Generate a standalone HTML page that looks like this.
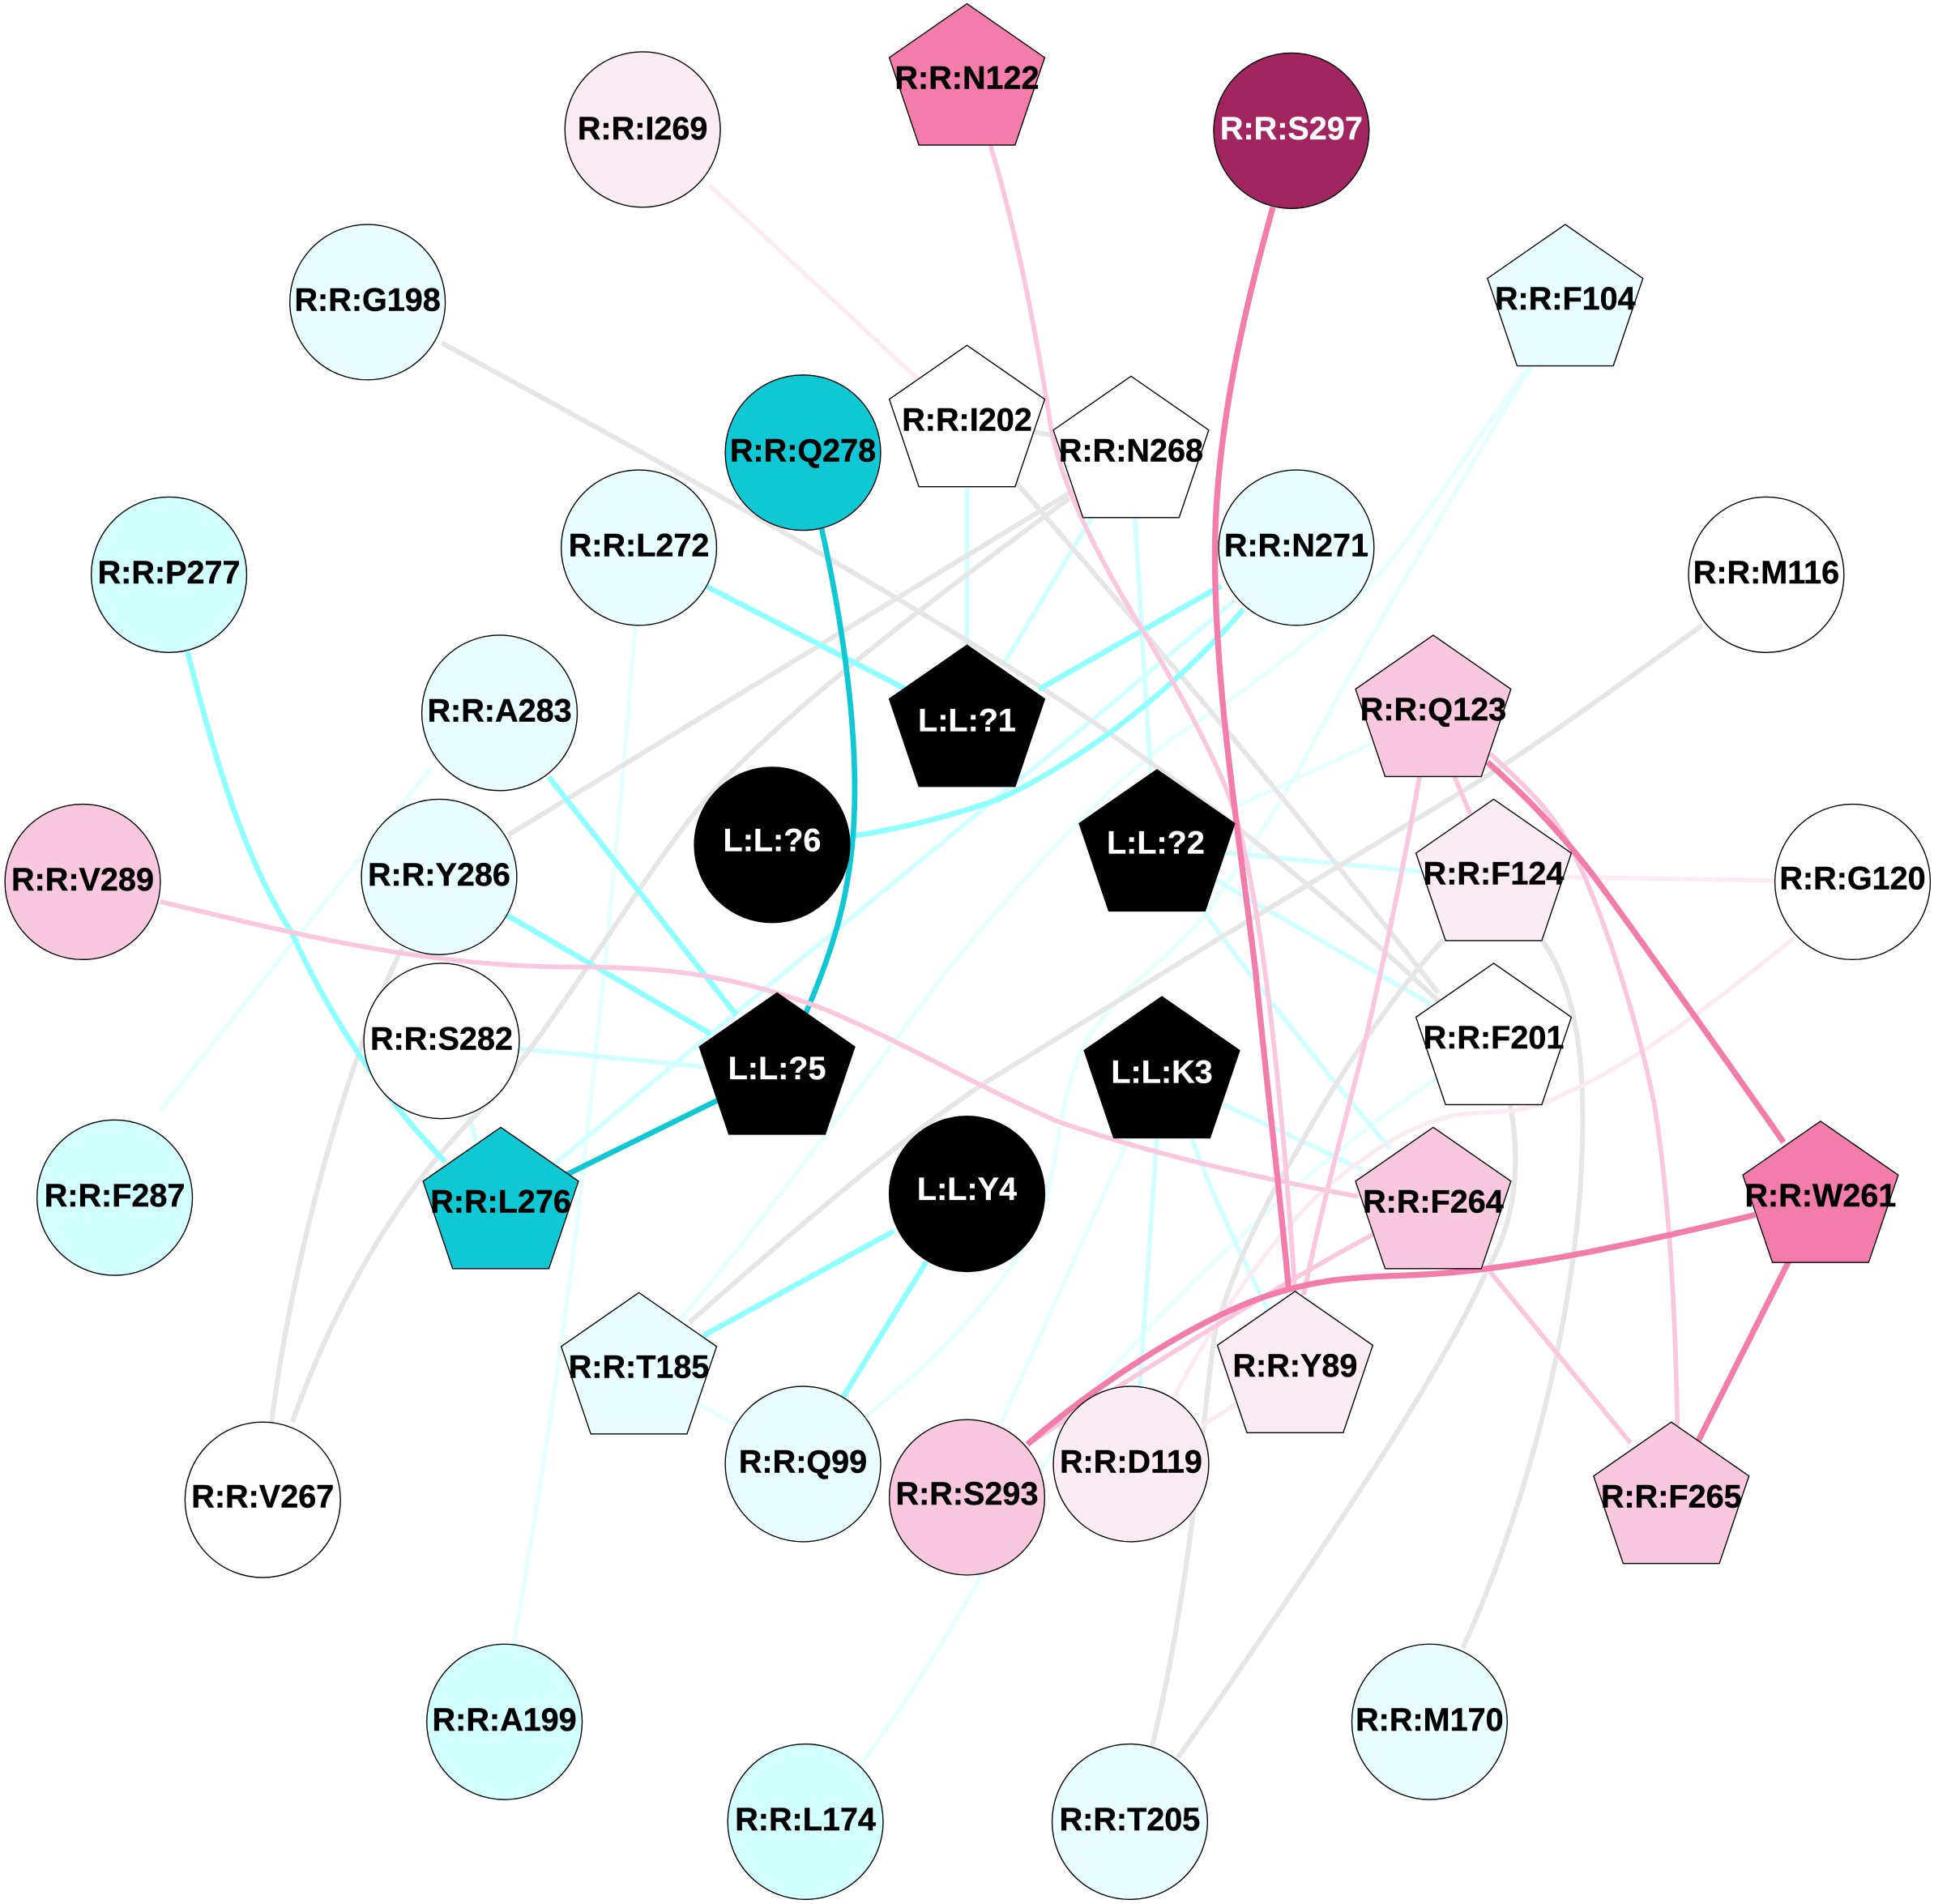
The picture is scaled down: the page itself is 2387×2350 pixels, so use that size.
<!DOCTYPE html>
<html><head><meta charset="utf-8"><style>
html,body{margin:0;padding:0;background:#fff}
svg{display:block}
path,line{fill:none;stroke-linecap:butt}
.lp{stroke:#fbecf4;stroke-width:3.6}
.p{stroke:#f9c8de;stroke-width:3.8}
.s{stroke:#f27dab;stroke-width:4.8}
.g{stroke:#e6e6e6;stroke-width:4}
.lc{stroke:#e6ffff;stroke-width:3.6}
.c{stroke:#d2ffff;stroke-width:3.8}
.sc{stroke:#8fffff;stroke-width:4.4}
.t{stroke:#10c8d4;stroke-width:4.4}
.n circle,.n polygon{stroke:#000;stroke-width:.9}
text{font-family:"Liberation Sans",sans-serif;font-weight:bold;font-size:26px;text-anchor:middle;fill:#000;stroke:#000;stroke-width:.3}
text.w{fill:#fff;stroke:#fff;stroke-width:.2}
</style></head><body>
<svg xmlns="http://www.w3.org/2000/svg" width="2387" height="2350" viewBox="0 0 1568 1543.7">
<rect width="1568" height="1544" fill="#fff"/>
<g>
<path class="lc" d="M1240,296 C1200,352 1150,430 1112,473 C1070,515 1010,560 952,598 C900,635 830,710 767,788 C720,850 620,990 552,1069"/>
<path class="lc" d="M1242,296 C1200,365 1110,515 1064,604 C1045,640 1020,680 979,739 C950,775 910,800 883,840 C860,880 860,925 850,965 C835,1020 780,1085 700,1150"/>
<path class="lc" d="M130,900 L350,622"/>
<path class="lc" d="M515,507 C508,600 490,800 475,925 C465,1030 440,1200 416,1335"/>
<path class="lc" d="M1165,874 C1060,945 960,1040 880,1135 C840,1190 780,1320 697,1432"/>
<path class="lc" d="M916,922 C880,1000 845,1080 811,1155"/>
<path class="lc" d="M566,1138 L596,1155"/>
<path class="lc" d="M1112,603 L1000,655"/>
<path class="c" d="M991,895 L1104,948"/>
<path class="c" d="M784,394 L784,523"/>
<path class="c" d="M886,418 L814,538"/>
<path class="c" d="M920,418 C925,490 928,560 933,625"/>
<path class="c" d="M1001,487 C960,520 880,590 820,637 C730,710 550,860 448,945"/>
<path class="c" d="M420,850 L571,865"/>
<path class="c" d="M380,905 L386,925"/>
<path class="c" d="M990,691 L1155,707"/>
<path class="c" d="M985,713 L1160,814"/>
<path class="c" d="M978,742 C1020,800 1075,870 1127,931"/>
<path class="c" d="M966,922 C985,975 1010,1025 1030,1066"/>
<path class="c" d="M938,922 L924,1125"/>

<path class="g" d="M358,278 C550,382 800,520 928,615 C1000,665 1090,740 1170,815"/>
<path class="g" d="M823,390 C900,480 1030,630 1166,805"/>
<path class="g" d="M784,340 L917,365"/>
<path class="g" d="M870,398 L412,677"/>
<path class="g" d="M867,404 C740,497 620,590 565,657 C510,725 450,835 385,905 C320,970 270,1060 237,1153"/>
<path class="g" d="M326,769 C280,860 235,1030 220,1155"/>
<path class="g" d="M1380,507 C1300,565 1230,615 1180,645 L985,763 L800,877 C720,930 630,1010 559,1072"/>
<path class="g" d="M1170,762 C1130,805 1080,880 1051,934 C1020,985 1000,1030 985,1080 C975,1150 965,1290 934,1416"/>
<path class="g" d="M1224,894 C1232,935 1232,985 1205,1031 C1170,1110 1090,1230 987,1380 L955,1425"/>
<path class="g" d="M1250,762 C1285,810 1285,890 1282,950 C1275,1080 1235,1230 1186,1336"/>

<path class="lp" d="M575,150 L745,308"/>
<path class="lp" d="M1455,760 C1400,805 1330,860 1270,886 C1235,905 1210,900 1181,904 C1140,912 1110,935 1074,964 C1040,995 990,1060 952,1132"/>
<path class="lp" d="M1260,711 L1445,714"/>
<path class="lp" d="M1005,1137 L974,1156"/>

<path class="sc" d="M572,475 L735,559"/>
<path class="sc" d="M990,475 L842,559"/>
<path class="sc" d="M1008,494 C960,550 890,610 810,648 C770,662 730,672 690,678"/>
<path class="sc" d="M152,528 C175,620 200,700 237,757 C265,820 310,890 361,942"/>
<path class="sc" d="M445,630 L597,823"/>
<path class="sc" d="M411,742 L576,838"/>
<path class="sc" d="M725,998 L570,1083"/>
<path class="sc" d="M751,1023 L682,1135"/>

<path class="t" d="M666,428 C680,490 693,570 693,640 C693,710 680,760 653,822"/>
<path class="t" d="M582,892 L460,952"/>

<path class="p" d="M803,118 C825,190 840,270 851,340 C858,390 890,450 918,497 C950,550 985,610 1001,658 C1025,740 1040,900 1050,1047"/>
<path class="p" d="M130,731 C250,760 350,784 465,784 C540,784 590,790 660,815 C720,838 790,880 857,909 C930,935 1020,955 1101,970"/>
<path class="p" d="M1151,629 C1135,720 1115,810 1103,860 C1085,930 1070,985 1057,1050"/>
<path class="p" d="M1179,629 L1192,660"/>
<path class="p" d="M1208,611 C1240,640 1260,660 1275,690 C1305,750 1330,840 1341,894 C1352,960 1358,1050 1360,1156"/>
<path class="p" d="M1113,1001 C1040,1040 960,1090 833,1171"/>
<path class="p" d="M1208,1031 L1322,1170"/>

<path class="s" d="M1032,168 C1015,230 985,340 985,450 C985,560 1005,680 1018,788 C1025,860 1038,970 1045,1047"/>
<path class="s" d="M1206,618 C1240,648 1265,675 1292,710 C1320,748 1400,860 1446,926"/>
<path class="s" d="M1423,985 C1340,1005 1240,1028 1160,1033 C1110,1036 1070,1033 1010,1057 C950,1082 880,1130 833,1171"/>
<path class="s" d="M1450,1023 L1377,1168"/>
</g>
<g class="n">
<circle cx="521" cy="105" r="63" fill="#fbecf4"/>
<circle cx="1047" cy="106" r="63" fill="#a02560"/>
<circle cx="298" cy="245" r="63" fill="#e9ffff"/>
<circle cx="651" cy="367" r="63" fill="#10c8d4"/>
<circle cx="518" cy="444" r="63" fill="#e9ffff"/>
<circle cx="1051" cy="444" r="63" fill="#e9ffff"/>
<circle cx="137" cy="466" r="63" fill="#d2ffff"/>
<circle cx="1432" cy="466" r="63" fill="#fff"/>
<circle cx="405" cy="578" r="63" fill="#e9ffff"/>
<circle cx="626" cy="685" r="63" fill="#000"/>
<circle cx="356" cy="711" r="63" fill="#e9ffff"/>
<circle cx="67" cy="715" r="63" fill="#f9c8de"/>
<circle cx="1502" cy="715" r="63" fill="#fff"/>
<circle cx="358" cy="844" r="63" fill="#fff"/>
<circle cx="93" cy="971" r="63" fill="#d2ffff"/>
<circle cx="784" cy="968" r="63" fill="#000"/>
<circle cx="213" cy="1216" r="63" fill="#fff"/>
<circle cx="651" cy="1187" r="63" fill="#e9ffff"/>
<circle cx="784" cy="1214" r="63" fill="#f9c8de"/>
<circle cx="917" cy="1187" r="63" fill="#fbecf4"/>
<circle cx="409" cy="1396" r="63" fill="#d2ffff"/>
<circle cx="1159" cy="1396" r="63" fill="#e9ffff"/>
<circle cx="653" cy="1477" r="63" fill="#d2ffff"/>
<circle cx="916" cy="1477" r="63" fill="#e9ffff"/>

<polygon fill="#f27dab" points="784,3 847,46.7 823,117.6 745,117.6 721,46.7"/>
<polygon fill="#e9ffff" points="1269,182 1332,225.7 1308,296.6 1230,296.6 1206,225.7"/>
<polygon fill="#fff" points="784,280 847,323.7 823,394.6 745,394.6 721,323.7"/>
<polygon fill="#fff" points="917,305 980,348.7 956,419.6 878,419.6 854,348.7"/>
<polygon fill="#000" points="784,523 847,566.7 823,637.6 745,637.6 721,566.7"/>
<polygon fill="#f9c8de" points="1162,515 1225,558.7 1201,629.6 1123,629.6 1099,558.7"/>
<polygon fill="#000" points="938,624 1001,667.7 977,738.6 899,738.6 875,667.7"/>
<polygon fill="#fbecf4" points="1211,648 1274,691.7 1250,762.6 1172,762.6 1148,691.7"/>
<polygon fill="#fff" points="1211,781 1274,824.7 1250,895.6 1172,895.6 1148,824.7"/>
<polygon fill="#000" points="630,805 693,848.7 669,919.6 591,919.6 567,848.7"/>
<polygon fill="#000" points="942,808 1005,851.7 981,922.6 903,922.6 879,851.7"/>
<polygon fill="#10c8d4" points="406,914 469,957.7 445,1028.6 367,1028.6 343,957.7"/>
<polygon fill="#f9c8de" points="1162,914 1225,957.7 1201,1028.6 1123,1028.6 1099,957.7"/>
<polygon fill="#f27dab" points="1476,909 1539,952.7 1515,1023.6 1437,1023.6 1413,952.7"/>
<polygon fill="#e9ffff" points="518,1048 581,1091.7 557,1162.6 479,1162.6 455,1091.7"/>
<polygon fill="#fbecf4" points="1050,1047 1113,1090.7 1089,1161.6 1011,1161.6 987,1090.7"/>
<polygon fill="#f9c8de" points="1355,1153 1418,1196.7 1394,1267.6 1316,1267.6 1292,1196.7"/>
</g>
<g>
<text x="521" y="113">R:R:I269</text>
<text class="w" x="1047" y="113">R:R:S297</text>
<text x="298" y="252">R:R:G198</text>
<text x="651" y="374">R:R:Q278</text>
<text x="518" y="451">R:R:L272</text>
<text x="1051" y="451">R:R:N271</text>
<text x="137" y="473">R:R:P277</text>
<text x="1432" y="473">R:R:M116</text>
<text x="405" y="585">R:R:A283</text>
<text class="w" x="626" y="690">L:L:?6</text>
<text x="356" y="718">R:R:Y286</text>
<text x="67" y="722">R:R:V289</text>
<text x="1502" y="721">R:R:G120</text>
<text x="358" y="851">R:R:S282</text>
<text x="93" y="978">R:R:F287</text>
<text class="w" x="784" y="973">L:L:Y4</text>
<text x="213" y="1222">R:R:V267</text>
<text x="651" y="1194">R:R:Q99</text>
<text x="784" y="1220">R:R:S293</text>
<text x="917" y="1194">R:R:D119</text>
<text x="409" y="1403">R:R:A199</text>
<text x="1159" y="1403">R:R:M170</text>
<text x="653" y="1484">R:R:L174</text>
<text x="916" y="1484">R:R:T205</text>

<text x="784" y="72">R:R:N122</text>
<text x="1269" y="251">R:R:F104</text>
<text x="784" y="349">R:R:I202</text>
<text x="917" y="374">R:R:N268</text>
<text class="w" x="784" y="593">L:L:?1</text>
<text x="1162" y="584">R:R:Q123</text>
<text class="w" x="937" y="692">L:L:?2</text>
<text x="1211" y="717">R:R:F124</text>
<text x="1211" y="850">R:R:F201</text>
<text class="w" x="630" y="875">L:L:?5</text>
<text class="w" x="942" y="878">L:L:K3</text>
<text x="406" y="983">R:R:L276</text>
<text x="1162" y="983">R:R:F264</text>
<text x="1476" y="978">R:R:W261</text>
<text x="518" y="1117">R:R:T185</text>
<text x="1050" y="1116">R:R:Y89</text>
<text x="1355" y="1222">R:R:F265</text>
</g>
</svg>
</body></html>
